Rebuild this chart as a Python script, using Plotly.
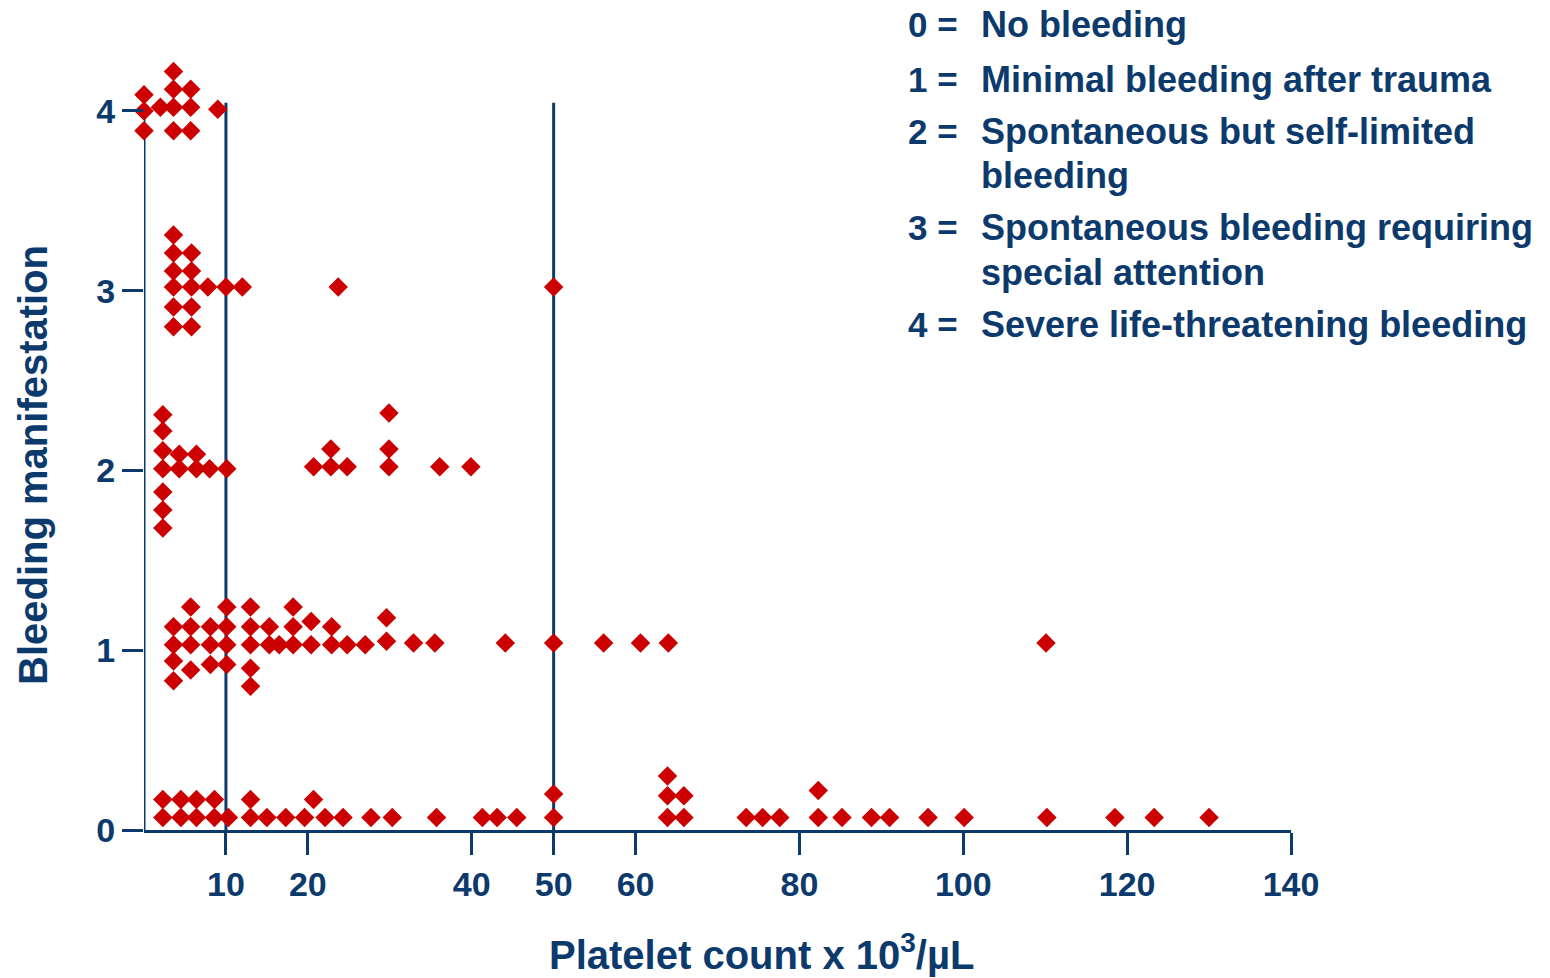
import plotly.graph_objects as go

# ---- data ----
lvl4_x = [0, 0, 0, 2.0, 3.6, 3.6, 3.6, 3.6, 5.7, 5.7, 5.7, 9.0]
lvl4_y = [4.09, 4.0, 3.89, 4.02, 4.22, 4.12, 4.02, 3.89, 4.12, 4.02, 3.89, 4.01]

lvl3_x = [3.6] * 6 + [5.8] * 5 + [7.8, 10.0, 12.0, 23.7, 50.0]
lvl3_y = [3.31, 3.21, 3.11, 3.02, 2.91, 2.80] + [3.21, 3.11, 3.02, 2.91, 2.80] + [3.02] * 5

lvl2_x = [2.3] * 7 + [4.3, 4.3, 6.4, 6.4, 8.0, 10.1, 20.7, 22.8, 22.8, 24.8,
                      29.9, 29.9, 29.9, 36.1, 39.9]
lvl2_y = [2.31, 2.22, 2.11, 2.01, 1.88, 1.78, 1.68] + [2.01, 2.09, 2.01, 2.09, 2.01, 2.01,
                                                      2.02, 2.12, 2.02, 2.02,
                                                      2.32, 2.12, 2.02, 2.02, 2.02]

lvl1_x = ([3.6] * 4 + [5.7] * 4 + [8.1] * 3 + [10.1] * 4 + [13.0] * 5 + [15.3] * 2
          + [16.5] + [18.2] * 3 + [20.4] * 2 + [22.9] * 2 + [24.8, 27.0] + [29.6] * 2
          + [32.9, 35.5, 44.1, 50.0, 56.1, 60.6, 64.0, 110.1])
lvl1_y = ([1.13, 1.03, 0.94, 0.83] + [1.24, 1.13, 1.03, 0.89] + [1.13, 1.03, 0.92]
          + [1.24, 1.13, 1.03, 0.92] + [1.24, 1.13, 1.03, 0.90, 0.80] + [1.13, 1.03]
          + [1.03] + [1.24, 1.13, 1.03] + [1.16, 1.03] + [1.13, 1.03] + [1.03, 1.03]
          + [1.18, 1.05] + [1.04] * 8)

lvl0_x = [2.3, 2.3, 4.5, 4.5, 6.4, 6.4, 8.6, 8.6, 10.3, 13.0, 13.0, 15.0, 17.3, 19.6,
          20.7, 22.1, 24.3, 27.7, 30.3, 35.7, 41.3, 43.1, 45.5, 50.0, 50.0,
          63.9, 63.9, 63.9, 65.9, 65.9, 73.5, 75.5, 77.6, 82.3, 82.3, 85.2, 88.8,
          91.0, 95.7, 100.1, 110.2, 118.5, 123.3, 130.0]
lvl0_y = [0.17, 0.07, 0.17, 0.07, 0.17, 0.07, 0.17, 0.07, 0.07, 0.17, 0.07, 0.07, 0.07, 0.07,
          0.17, 0.07, 0.07, 0.07, 0.07, 0.07, 0.07, 0.07, 0.07, 0.20, 0.07,
          0.30, 0.19, 0.07, 0.19, 0.07, 0.07, 0.07, 0.07, 0.22, 0.07, 0.07, 0.07,
          0.07, 0.07, 0.07, 0.07, 0.07, 0.07, 0.07]

x_ticks = [10, 20, 40, 50, 60, 80, 100, 120, 140]
y_ticks = [0, 1, 2, 3, 4]
threshold_lines = [10, 50]
axis_top = 4.045

legend_codes = ["0 =", "1 =", "2 =", "", "3 =", "", "4 ="]
legend_texts = ["No bleeding", "Minimal bleeding after trauma", "Spontaneous but self-limited",
                "bleeding", "Spontaneous bleeding requiring", "special attention",
                "Severe life-threatening bleeding"]
legend_rows_px = [25, 79, 131, 175, 227, 272, 325]

NAVY = "#0d3a6c"
RED = "#cc0000"
FONT = "Liberation Sans, Arial, sans-serif"

W, H = 1550, 978
Y_MAX = 4.3
px_per_unit = 179.75
L, R, B = 144, 259, 148
T = int(round((H - B) - Y_MAX * px_per_unit))
pw, ph = W - L - R, H - T - B

xs = lvl0_x + lvl1_x + lvl2_x + lvl3_x + lvl4_x
ys = lvl0_y + lvl1_y + lvl2_y + lvl3_y + lvl4_y

fig = go.Figure()
fig.add_trace(go.Scatter(
    x=xs, y=ys, mode="markers",
    marker=dict(symbol="diamond", size=15, color=RED, line=dict(width=0)),
    cliponaxis=False, showlegend=False, hoverinfo="x+y"))

shapes = [dict(type="line", xref="x", yref="y", x0=0, x1=0, y0=0, y1=axis_top,
               line=dict(color=NAVY, width=3), layer="below")]
for v in threshold_lines:
    shapes.append(dict(type="line", xref="x", yref="y", x0=v, x1=v, y0=0, y1=axis_top,
                       line=dict(color=NAVY, width=3), layer="below"))

def py2paper(p):
    return (H - B - p) / ph

def px2paper(p):
    return (p - L) / pw

annotations = []
for code, txt, row in zip(legend_codes, legend_texts, legend_rows_px):
    if code:
        annotations.append(dict(text=code, xref="paper", yref="paper",
                                x=px2paper(906), y=py2paper(row), xanchor="left", yanchor="middle",
                                showarrow=False, font=dict(family=FONT, size=35, color=NAVY, weight="bold")))
    annotations.append(dict(text=txt, xref="paper", yref="paper",
                            x=px2paper(979), y=py2paper(row), xanchor="left", yanchor="middle",
                            showarrow=False, font=dict(family=FONT, size=36, color=NAVY, weight="bold")))

annotations.append(dict(text="Platelet count x 10<sup>3</sup>/µL", xref="paper", yref="paper",
                        x=px2paper(761), y=py2paper(952), xanchor="center", yanchor="middle",
                        showarrow=False, font=dict(family=FONT, size=40, color=NAVY, weight="bold")))
annotations.append(dict(text="Bleeding manifestation", xref="paper", yref="paper", textangle=-90,
                        x=px2paper(33), y=py2paper(465), xanchor="center", yanchor="middle",
                        showarrow=False, font=dict(family=FONT, size=40, color=NAVY, weight="bold")))

fig.update_layout(
    width=W, height=H,
    margin=dict(l=L, r=R, t=T, b=B, pad=0),
    paper_bgcolor="white", plot_bgcolor="white",
    shapes=shapes, annotations=annotations,
    xaxis=dict(range=[0, 140], tickvals=x_ticks, showgrid=False, zeroline=False,
               showline=True, linecolor=NAVY, linewidth=3,
               ticks="outside", ticklen=22, tickwidth=3, tickcolor=NAVY,
               tickfont=dict(family=FONT, size=34, color=NAVY, weight="bold")),
    yaxis=dict(range=[0, Y_MAX], tickvals=y_ticks, showgrid=False, zeroline=False,
               showline=False,
               ticks="outside", ticklen=21, tickwidth=3, tickcolor=NAVY,
               tickfont=dict(family=FONT, size=34, color=NAVY, weight="bold")),
)

fig.write_html("out.html", config={"displayModeBar": False},
               post_script="document.body.style.margin='0';")
